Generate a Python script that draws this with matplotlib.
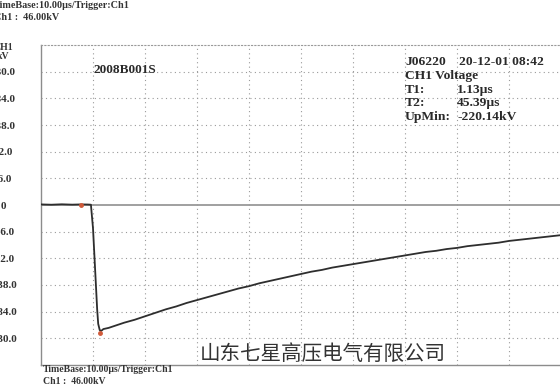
import numpy as np
import matplotlib
matplotlib.use("Agg")
import matplotlib.pyplot as plt

# CH1 impulse record, time in us, voltage in kV
t_us = [0, 2, 4, 6, 7.7, 9.0, 9.6, 10.0, 10.4, 10.8, 11.0, 11.3, 11.6, 12, 13, 14, 15, 16,
        18, 20, 22, 24, 26, 28, 30, 32, 34, 36, 38, 40, 42, 44, 46, 48, 50, 52, 54,
        56, 58, 60, 62, 64, 66, 68, 70, 72, 74, 76, 78, 80, 82, 84, 86, 88, 90, 92,
        94, 96, 98, 100]
volt_kv = [1.0, 0.5, 1.2, 0.6, 1.0, 0.8, 0.5, -40, -110, -180, -205, -216, -217, -214, -212,
           -209, -206, -203, -198, -192, -186, -180, -175, -169, -164, -159, -154, -149,
           -144, -140, -135, -131, -127, -123, -119, -115, -112, -108, -105, -102, -99,
           -96, -93, -90, -87, -84, -81, -79, -76, -74, -71, -69, -67, -65, -62, -60,
           -58, -56, -54, -52]

# cursor markers: trigger point and minimum
mark_t = [7.7, 11.3]
mark_v = [0.0, -220.14]

div_kv = 46.0
ytick_vals = [230, 184, 138, 92, 46, 0, -46, -92, -138, -184, -230]
ytick_txt = ["230.0", "184.0", "138.0", "92.0", "46.0", "0", "-46.0", "-92.0",
             "-138.0", "-184.0", "-230.0"]

W, H = 560, 386
fig = plt.figure(figsize=(W / 100, H / 100), dpi=100)
fig.patch.set_facecolor("white")

def px(x, y):
    return x / W, 1 - y / H

ax = fig.add_axes([41 / W, 1 - 365 / H, 520 / W, 320 / H])
ax.set_xlim(0, 100)
ax.set_ylim(-6 * div_kv, 6 * div_kv)

grid_kw = dict(color="#9a9a9a", lw=0.8, linestyle=(0, (1, 3)))
for gx in np.arange(10, 100, 10):
    ax.axvline(gx, **grid_kw)
for gy in ytick_vals:
    if gy != 0:
        ax.axhline(gy, **grid_kw)

ax.axhline(0, color="#a0a0a0", lw=1.4, zorder=1)

ax.plot(t_us, volt_kv, color="#2e2e2e", lw=1.3, zorder=3)
ax.plot(mark_t, mark_v, "o", ms=2.5, color="#d05a3a", zorder=4)

serif = "Liberation Serif"
ax.set_xticks([])
ax.set_yticks(ytick_vals)
ax.set_yticklabels(ytick_txt, family=serif, fontsize=8, weight="bold",
                   color="#333333", ha="center")
# labels centred just inside the left figure edge
ax.tick_params(axis="y", length=0, pad=38 * 0.72)

for side in ["left", "bottom"]:
    ax.spines[side].set_color("#8c8c8c")
    ax.spines[side].set_linewidth(1.0)
ax.spines["top"].set_color("#9a9a9a")
ax.spines["top"].set_linestyle((0, (1, 2)))
ax.spines["right"].set_visible(False)

fig.text(*px(3, 52), "CH1\nkV", family=serif, fontsize=7, weight="bold",
         ha="center", va="center", linespacing=0.9, color="#333333")

fig.text(*px(-6, 5), "TimeBase:10.00\u00b5s/Trigger:Ch1", family=serif, fontsize=7.3,
         weight="bold", va="center", color="#333333")
fig.text(*px(-6, 17), "Ch1 :  46.00kV", family=serif, fontsize=7.3, weight="bold",
         va="center", color="#333333")
fig.text(*px(43, 370), "TimeBase:10.00\u00b5s/Trigger:Ch1", family=serif, fontsize=7,
         weight="bold", va="center", color="#333333")
fig.text(*px(43, 381), "Ch1 :  46.00kV", family=serif, fontsize=7, weight="bold",
         va="center", color="#333333")

fig.text(*px(94, 70), "2008B001S", family=serif, fontsize=9.5, weight="bold",
         va="center", color="#2a2a2a")

info_left = ["J06220", "CH1 Voltage", "T1:", "T2:", "UpMin:"]
info_right = ["20-12-01 08:42", "", "1.13\u00b5s", "45.39\u00b5s", "-220.14kV"]
for i, (a, b) in enumerate(zip(info_left, info_right)):
    yy = 62 + i * 13.8
    fig.text(*px(405, yy), a, family=serif, fontsize=9.7, weight="bold",
             va="center", color="#2a2a2a")
    if b:
        fig.text(*px(457 if i else 459, yy), b, family=serif, fontsize=9.7,
                 weight="bold", va="center", color="#2a2a2a")

fig.text(*px(200, 354), "山东七星高压电气有限公司", family=["Noto Sans CJK SC"],
         fontsize=14.8, va="center", color="#333333")

fig.savefig("out.png", dpi=100, facecolor="white")
